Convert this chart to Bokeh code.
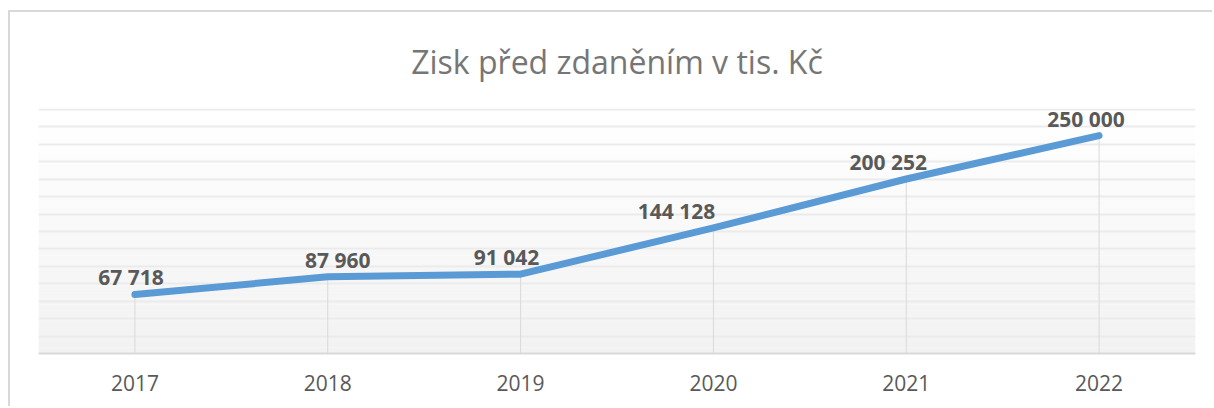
from bokeh.plotting import figure
from bokeh.models import FactorRange, Range1d, SingleIntervalTicker, ColumnDataSource
from bokeh.core.properties import value
from bokeh.embed import file_html
from bokeh.resources import INLINE

# ---- data ----
years = ["2017", "2018", "2019", "2020", "2021", "2022"]
profit = [67718, 87960, 91042, 144128, 200252, 250000]
title_text = "Zisk před zdaněním v tis. Kč"

# ---- style ----
label_dx = [-4, 10, -14, -37, -18, -13]
FONT = "Open Sans"
Y_END = 281148
GRID_STEP = 20000

p = figure(width=1204, height=396, output_backend="svg", toolbar_location=None,
           x_range=FactorRange(factors=years, range_padding=0),
           y_range=Range1d(0, Y_END),
           min_border_left=28, min_border_right=19, min_border_top=96, min_border_bottom=55)
p.margin = (10, 0, 0, 8)
p.styles = {"border-top": "2px solid #D9D9D9", "border-left": "2px solid #D9D9D9",
            "border-right": "none", "border-bottom": "none"}
p.outline_line_color = None
p.background_fill_color = "#FFFFFF"
p.border_fill_color = "#FFFFFF"

# title
p.title.text = title_text
p.title.align = "center"
p.title.vertical_align = "top"
p.title.text_font = FONT
p.title.text_font_size = "32px"
p.title.text_font_style = "normal"
p.title.text_color = "#767676"
p.title.standoff = 48

# gradient background in plot area
n = 40
bot = [Y_END * i / n for i in range(n)]
top = [Y_END * (i + 1) / n for i in range(n)]
def mix(t):
    c = int(round(0xF2 + (0xFF - 0xF2) * t))
    return "#%02x%02x%02x" % (c, c, c)
cols = [mix((i + 0.5) / n) for i in range(n)]
gr = p.quad(left=0, right=len(years), bottom=bot, top=top, fill_color=cols, line_color=None)
gr.level = "image"

# grid
p.xgrid.visible = False
p.yaxis.visible = False
p.ygrid.ticker = SingleIntervalTicker(interval=GRID_STEP)
p.ygrid.grid_line_color = "#EBEBEB"
p.ygrid.grid_line_width = 2

# drop lines
p.segment(x0=years, y0=[0] * len(years), x1=years, y1=profit, line_color="#D9D9D9", line_width=1)

# line
p.line(x=years, y=profit, line_width=7, line_color="#5B9BD5", line_cap="round", line_join="round")

# data labels
src = ColumnDataSource(dict(x=years, y=profit, t=[f"{v:,}".replace(",", " ") for v in profit], dx=label_dx))
p.text(x="x", y="y", text="t", x_offset="dx", y_offset=-17, source=src,
       text_font=value(FONT), text_font_style="bold", text_font_size="21px",
       text_color="#595959", text_align="center", text_baseline="alphabetic")

# x axis
ax = p.xaxis[0]
ax.axis_line_color = "#D9D9D9"
ax.axis_line_width = 2
ax.major_tick_line_color = None
ax.minor_tick_line_color = None
ax.major_label_text_font = FONT
ax.major_label_text_font_size = "21px"
ax.major_label_text_color = "#595959"
ax.major_label_standoff = 15

open("out.html", "w").write(file_html(p, INLINE))
